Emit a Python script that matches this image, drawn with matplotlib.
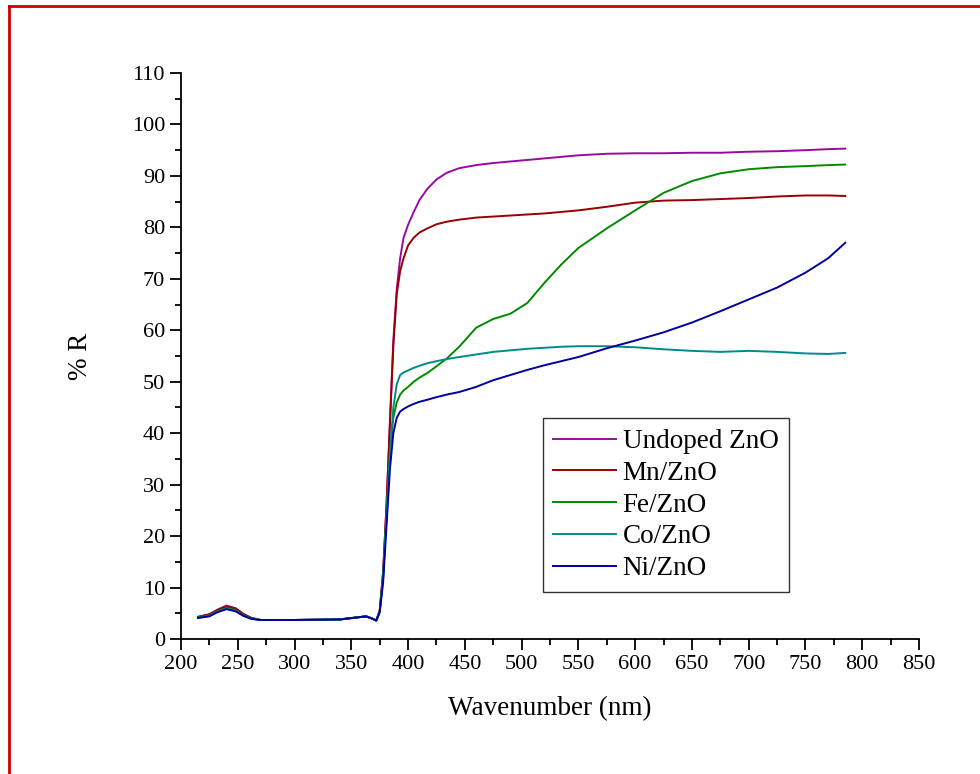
import matplotlib
matplotlib.use("Agg")
import matplotlib.pyplot as plt
from matplotlib.lines import Line2D
from matplotlib.ticker import MultipleLocator

plt.rcParams["font.family"] = ["Liberation Serif", "DejaVu Serif"]

# wavelength grid (nm)
wavelength = [215, 225, 232, 240, 248, 255, 262, 270, 300, 340, 355, 363, 368, 372,
              375, 378, 381, 384, 387, 390, 393, 396, 400, 405, 410, 417, 425, 434,
              445, 460, 475, 490, 505, 520, 535, 550, 575, 600, 625, 650, 675, 700,
              725, 750, 770, 785]

undoped = [4.3, 4.8, 5.7, 6.5, 6.0, 4.9, 4.1, 3.7, 3.7, 3.8, 4.2, 4.4, 4.0, 3.6,
           5.5, 13, 26, 42, 58, 68, 74, 78, 80.5, 83, 85.3, 87.5, 89.3, 90.6,
           91.5, 92.1, 92.5, 92.8, 93.1, 93.4, 93.7, 94.0, 94.3, 94.4, 94.4, 94.5, 94.5, 94.7,
           94.8, 95.0, 95.2, 95.3]
mn = [4.3, 4.8, 5.6, 6.3, 5.9, 4.8, 4.1, 3.7, 3.7, 3.8, 4.2, 4.4, 4.0, 3.6,
      5.5, 13, 26, 42, 57, 67, 71.5, 74, 76.5, 78, 79, 79.8, 80.6, 81.1,
      81.5, 81.9, 82.1, 82.3, 82.5, 82.7, 83.0, 83.3, 84.0, 84.8, 85.2, 85.3, 85.5, 85.7,
      86.0, 86.2, 86.2, 86.1]
fe = [4.2, 4.6, 5.4, 6.0, 5.6, 4.6, 4.0, 3.7, 3.7, 3.8, 4.2, 4.4, 4.0, 3.6,
      5.3, 12, 24, 36, 43, 46, 47.5, 48.3, 49, 50, 50.8, 51.7, 53, 54.5,
      56.8, 60.5, 62.2, 63.2, 65.3, 69.2, 72.8, 76, 79.8, 83.3, 86.7, 89, 90.5, 91.3,
      91.7, 91.9, 92.1, 92.2]
co = [4.1, 4.5, 5.3, 5.9, 5.5, 4.5, 4.0, 3.7, 3.7, 3.8, 4.2, 4.4, 4.0, 3.6,
      5.3, 12, 24, 36, 45, 49.5, 51.3, 51.8, 52.2, 52.7, 53.1, 53.6, 54.0, 54.4,
      54.8, 55.3, 55.8, 56.1, 56.4, 56.6, 56.8, 56.9, 56.9, 56.7, 56.3, 56.0, 55.8, 56.0,
      55.8, 55.5, 55.4, 55.6]
ni = [4.1, 4.4, 5.2, 5.8, 5.4, 4.5, 3.9, 3.7, 3.7, 3.8, 4.2, 4.4, 4.0, 3.6,
      5.2, 11, 22, 33, 40, 43, 44.2, 44.7, 45.2, 45.7, 46.1, 46.5, 47.0, 47.5,
      48.0, 49.0, 50.3, 51.3, 52.3, 53.2, 54.0, 54.8, 56.5, 58.0, 59.6, 61.5, 63.7, 66.0,
      68.3, 71.2, 74.0, 77.0]

labels = ["Undoped ZnO", "Mn/ZnO", "Fe/ZnO", "Co/ZnO", "Ni/ZnO"]
colors = ["#9a0aa0", "#990000", "#008a00", "#008a8a", "#0000a0"]

fig = plt.figure(figsize=(9.8, 7.74), dpi=100)
ax = fig.add_axes([0.1847, 0.1744, 0.7531, 0.7313])

for ys, lab, c in zip([undoped, mn, fe, co, ni], labels, colors):
    ax.plot(wavelength, ys, color=c, lw=1.4, label=lab)

ax.set_xlim(200, 850)
ax.set_ylim(0, 110)
ax.xaxis.set_major_locator(MultipleLocator(50))
ax.xaxis.set_minor_locator(MultipleLocator(25))
ax.yaxis.set_major_locator(MultipleLocator(10))
ax.yaxis.set_minor_locator(MultipleLocator(5))
ax.spines["top"].set_visible(False)
ax.spines["right"].set_visible(False)
for s in ("left", "bottom"):
    ax.spines[s].set_linewidth(1.3)
ax.tick_params(which="major", direction="out", length=8, width=1.3, labelsize=16)
ax.tick_params(which="minor", direction="out", length=4, width=1.3)

ax.set_xlabel("Wavenumber (nm)", fontsize=19.5, labelpad=16)
ax.set_ylabel("% R", fontsize=19.5, labelpad=28)

leg = ax.legend(loc="lower left", bbox_to_anchor=(0.49, 0.083), borderaxespad=0,
                fontsize=19.5, fancybox=False, edgecolor="#333333", framealpha=1,
                handlelength=2.3, handletextpad=0.25, labelspacing=0.25,
                borderpad=0.4)
leg.get_frame().set_linewidth(1.0)

# red frame lines (top and left, as in the reference crop)
fig.add_artist(Line2D([8.5 / 980, 1.0], [1 - 6 / 774, 1 - 6 / 774],
                      transform=fig.transFigure, color="#cc0000", lw=2))
fig.add_artist(Line2D([8.5 / 980, 8.5 / 980], [0.0, 1 - 6 / 774],
                      transform=fig.transFigure, color="#cc0000", lw=2))

fig.savefig("out.png", dpi=100)
